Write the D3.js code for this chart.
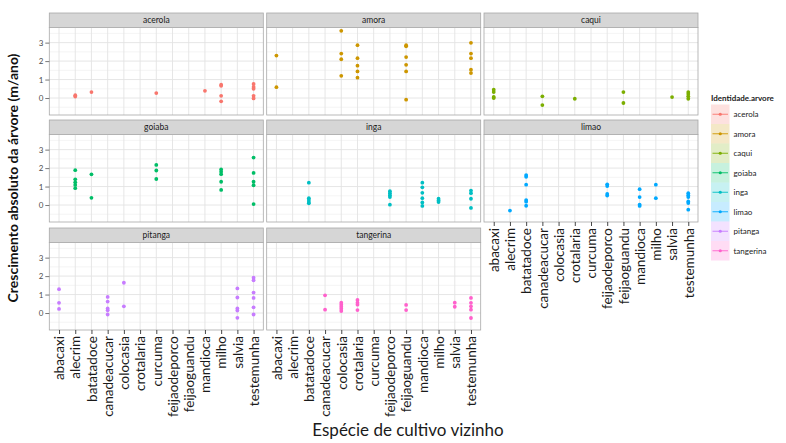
<!DOCTYPE html>
<html>
<head>
<meta charset="utf-8">
<script src="https://cdn.jsdelivr.net/npm/d3@7"></script>
<style>
  html, body { margin: 0; padding: 0; background: #fff; }
  svg { display: block; }
</style>
</head>
<body>
<svg id="chart" width="786" height="443"></svg>
<script>
// Neighbouring crop species (x axis, shared by every panel)
const categories = ["abacaxi", "alecrim", "batatadoce", "canadeacucar", "colocasia",
  "crotalaria", "curcuma", "feijaodeporco", "feijaoguandu", "mandioca", "milho",
  "salvia", "testemunha"];

// Tree species (one panel each) and their legend colours
const trees = ["acerola", "amora", "caqui", "goiaba", "inga", "limao", "pitanga", "tangerina"];
const treeColors = ["#F8766D", "#CD9600", "#7CAE00", "#00BE67", "#00BFC4", "#00A9FF", "#C77CFF", "#FF61CC"];

const yTicks = [0, 1, 2, 3];

// Absolute growth (m/ano) per tree, as [neighbour crop, value]
const acerola = [
  ["alecrim", 0.15], ["alecrim", 0.08], ["batatadoce", 0.32], ["curcuma", 0.27],
  ["mandioca", 0.39], ["milho", 0.72], ["milho", 0.66], ["milho", 0.12], ["milho", -0.18],
  ["testemunha", 0.76], ["testemunha", 0.6], ["testemunha", 0.5], ["testemunha", 0.12], ["testemunha", -0.02]
];
const amora = [
  ["abacaxi", 2.3], ["abacaxi", 0.59],
  ["colocasia", 3.64], ["colocasia", 2.41], ["colocasia", 2.1], ["colocasia", 1.2],
  ["crotalaria", 2.86], ["crotalaria", 2.16], ["crotalaria", 1.75], ["crotalaria", 1.44], ["crotalaria", 1.1],
  ["feijaoguandu", 2.86], ["feijaoguandu", 2.8], ["feijaoguandu", 2.22], ["feijaoguandu", 1.8], ["feijaoguandu", 1.44], ["feijaoguandu", -0.09],
  ["testemunha", 2.99], ["testemunha", 2.41], ["testemunha", 2.16], ["testemunha", 1.53], ["testemunha", 1.35]
];
const caqui = [
  ["abacaxi", 0.45], ["abacaxi", 0.32], ["abacaxi", 0.06], ["abacaxi", 0.0],
  ["canadeacucar", 0.09], ["canadeacucar", -0.38], ["crotalaria", -0.04],
  ["feijaoguandu", 0.32], ["feijaoguandu", -0.27], ["salvia", 0.05],
  ["testemunha", 0.32], ["testemunha", 0.22], ["testemunha", 0.09], ["testemunha", -0.04]
];
const goiaba = [
  ["alecrim", 1.89], ["alecrim", 1.39], ["alecrim", 1.23], ["alecrim", 1.09], ["alecrim", 0.91],
  ["batatadoce", 1.66], ["batatadoce", 0.39],
  ["curcuma", 2.17], ["curcuma", 1.87], ["curcuma", 1.41],
  ["milho", 1.93], ["milho", 1.8], ["milho", 1.67], ["milho", 1.26], ["milho", 0.82],
  ["testemunha", 2.57], ["testemunha", 1.74], ["testemunha", 1.26], ["testemunha", 1.07], ["testemunha", 0.05]
];
const inga = [
  ["batatadoce", 1.21], ["batatadoce", 0.37], ["batatadoce", 0.27], ["batatadoce", 0.16], ["batatadoce", 0.09],
  ["feijaodeporco", 0.75], ["feijaodeporco", 0.64], ["feijaodeporco", 0.53], ["feijaodeporco", 0.43], ["feijaodeporco", 0.02],
  ["mandioca", 1.21], ["mandioca", 0.96], ["mandioca", 0.66], ["mandioca", 0.37], ["mandioca", 0.14], ["mandioca", -0.05],
  ["milho", 0.34], ["milho", 0.25], ["milho", 0.16],
  ["testemunha", 0.78], ["testemunha", 0.64], ["testemunha", 0.34], ["testemunha", -0.16]
];
const limao = [
  ["alecrim", -0.3],
  ["batatadoce", 1.62], ["batatadoce", 1.53], ["batatadoce", 1.1], ["batatadoce", 0.27], ["batatadoce", 0.18], ["batatadoce", -0.04],
  ["feijaodeporco", 1.12], ["feijaodeporco", 1.03], ["feijaodeporco", 0.6], ["feijaodeporco", 0.51],
  ["mandioca", 0.86], ["mandioca", 0.43], ["mandioca", 0.02], ["mandioca", -0.05],
  ["milho", 1.1], ["milho", 0.37],
  ["testemunha", 0.64], ["testemunha", 0.53], ["testemunha", 0.43], ["testemunha", 0.19], ["testemunha", 0.11], ["testemunha", -0.25]
];
const pitanga = [
  ["abacaxi", 1.29], ["abacaxi", 0.55], ["abacaxi", 0.22],
  ["canadeacucar", 0.87], ["canadeacucar", 0.62], ["canadeacucar", 0.25], ["canadeacucar", 0.15], ["canadeacucar", -0.08],
  ["colocasia", 1.64], ["colocasia", 0.36],
  ["salvia", 1.33], ["salvia", 0.84], ["salvia", 0.25], ["salvia", 0.13], ["salvia", -0.26],
  ["testemunha", 1.91], ["testemunha", 1.77], ["testemunha", 1.11], ["testemunha", 0.82], ["testemunha", 0.31], ["testemunha", -0.08]
];
const tangerina = [
  ["canadeacucar", 0.96], ["canadeacucar", 0.18],
  ["colocasia", 0.56], ["colocasia", 0.45], ["colocasia", 0.34], ["colocasia", 0.23], ["colocasia", 0.11],
  ["crotalaria", 0.71], ["crotalaria", 0.56], ["crotalaria", 0.45], ["crotalaria", 0.16],
  ["feijaoguandu", 0.44], ["feijaoguandu", 0.16],
  ["salvia", 0.56], ["salvia", 0.34],
  ["testemunha", 0.82], ["testemunha", 0.55], ["testemunha", 0.36], ["testemunha", 0.18], ["testemunha", -0.27]
];

const treeData = { acerola, amora, caqui, goiaba, inga, limao, pitanga, tangerina };

// ---- layout ----
const svg = d3.select("#chart");
const colLeft = [49.3, 266.7, 484];
const rowTop = [13, 120, 228];
const panelW = 214;
const stripH = 14.5;
const panelH = 87.5;
const font = "Lato, 'Open Sans', sans-serif";

const color = d3.scaleOrdinal().domain(trees).range(treeColors);

const x = d3.scalePoint().domain(categories).range([0, panelW]).padding(0.6);
const y = d3.scaleLinear().domain([-0.92, 3.82]).range([panelH, 0]);
const yGrid = d3.range(-0.5, 3.6, 0.5);

trees.forEach((tree, i) => {
  const col = i % 3, row = Math.floor(i / 3);
  const g = svg.append("g").attr("transform", `translate(${colLeft[col]},${rowTop[row]})`);

  // strip
  g.append("rect").attr("x", 0).attr("y", 0).attr("width", panelW).attr("height", stripH)
    .attr("fill", "#D6D6D6").attr("stroke", "#A8A8A8").attr("stroke-width", 0.8);
  g.append("text").attr("x", panelW / 2).attr("y", stripH / 2 + 3)
    .attr("text-anchor", "middle").attr("font-family", font).attr("font-size", 8.5)
    .attr("fill", "#1A1A1A").text(tree);

  const p = g.append("g").attr("transform", `translate(0,${stripH})`);
  p.append("rect").attr("width", panelW).attr("height", panelH).attr("fill", "#fff");

  // grid: major lines on whole units, minor on halves
  p.selectAll(".hgrid").data(yGrid).join("line")
    .attr("x1", 0).attr("x2", panelW).attr("y1", d => y(d)).attr("y2", d => y(d))
    .attr("stroke-width", d => Number.isInteger(d) ? 0.9 : 0.6)
    .attr("stroke", d => Number.isInteger(d) ? "#E3E3E3" : "#EFEFEF");
  p.selectAll(".vgrid").data(categories).join("line")
    .attr("x1", d => x(d)).attr("x2", d => x(d)).attr("y1", 0).attr("y2", panelH)
    .attr("stroke", "#E3E3E3").attr("stroke-width", 0.9);

  // points
  p.selectAll("circle").data(treeData[tree]).join("circle")
    .attr("cx", d => x(d[0])).attr("cy", d => y(d[1])).attr("r", 1.9)
    .attr("fill", color(tree));

  // border
  p.append("rect").attr("width", panelW).attr("height", panelH).attr("fill", "none")
    .attr("stroke", "#A8A8A8").attr("stroke-width", 0.8);

  // y axis on the first column
  if (col === 0) {
    const ya = p.append("g").call(d3.axisLeft(y).tickValues(yTicks).tickSize(4).tickPadding(2).tickFormat(d3.format("d")));
    ya.select(".domain").remove();
    ya.selectAll("line").attr("stroke", "#555").attr("stroke-width", 0.8);
    ya.selectAll("text").attr("font-family", font).attr("font-size", 8).attr("fill", "#4D4D4D");
  }

  // x axis on the lowest panel of each column
  const isBottom = (row === 2) || (row === 1 && col === 2);
  if (isBottom) {
    const xa = p.append("g").attr("transform", `translate(0,${panelH})`)
      .call(d3.axisBottom(x).tickSize(4).tickPadding(3));
    xa.select(".domain").remove();
    xa.selectAll("line").attr("stroke", "#333").attr("stroke-width", 0.9);
    xa.selectAll("text")
      .attr("font-family", font).attr("font-size", 13.5).attr("fill", "#1a1a1a")
      .attr("transform", "rotate(-90)").attr("text-anchor", "end")
      .attr("x", -6).attr("y", 0).attr("dy", "0.35em");
  }
});

// axis titles
svg.append("text")
  .attr("transform", "translate(18,178) rotate(-90)")
  .attr("text-anchor", "middle").attr("font-family", font).attr("font-weight", "bold")
  .attr("font-size", 14).attr("fill", "#111")
  .text("Crescimento absoluto da árvore (m/ano)");

svg.append("text")
  .attr("x", 408).attr("y", 436)
  .attr("text-anchor", "middle").attr("font-family", font)
  .attr("font-size", 17).attr("fill", "#1a1a1a")
  .text("Espécie de cultivo vizinho");

// legend
const lg = svg.append("g").attr("transform", "translate(711,0)");
lg.append("text").attr("x", 0).attr("y", 101).attr("font-family", font)
  .attr("font-weight", "bold").attr("font-size", 8).attr("fill", "#1a1a1a")
  .text("Identidade.arvore");
const keyW = 18.5, keyH = 19.5, key0 = 104.5;
const items = lg.selectAll(".item").data(trees).join("g")
  .attr("transform", (d, i) => `translate(0,${key0 + i * keyH})`);
items.append("rect").attr("width", keyW).attr("height", keyH)
  .attr("fill", d => color(d)).attr("fill-opacity", 0.22);
items.append("line").attr("x1", 1.5).attr("x2", keyW - 1.5)
  .attr("y1", keyH / 2).attr("y2", keyH / 2)
  .attr("stroke", d => color(d)).attr("stroke-width", 0.9);
items.append("circle").attr("cx", keyW / 2).attr("cy", keyH / 2).attr("r", 1.6)
  .attr("fill", d => color(d));
items.append("text").attr("x", keyW + 4).attr("y", keyH / 2 + 3)
  .attr("font-family", font).attr("font-size", 8).attr("fill", "#1a1a1a")
  .text(d => d);
</script>
</body>
</html>
